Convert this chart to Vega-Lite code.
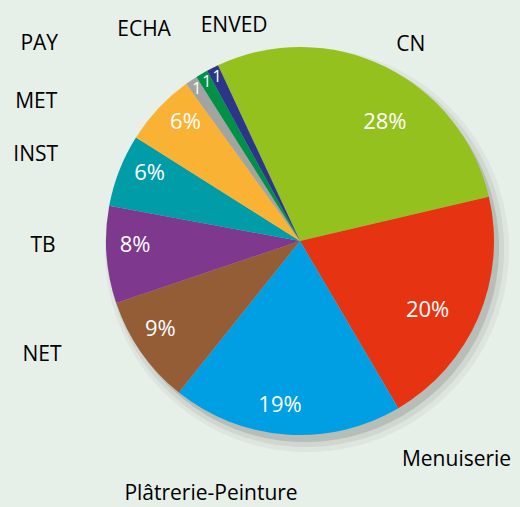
{
  "$schema": "https://vega.github.io/schema/vega-lite/v6.json",
  "autosize": {"type": "none"},
  "width": 440,
  "height": 482,
  "padding": {"left": 80, "top": 0, "right": 0, "bottom": 25},
  "background": "#e6efe8",
  "config": {"view": {"stroke": null}, "text": {"font": "Open Sans", "fontSize": 21}},
  "data": {"values": [
    {"category": "CN", "value": 28, "pct": "28%", "rank": 1},
    {"category": "Menuiserie", "value": 20, "pct": "20%", "rank": 2},
    {"category": "Plâtrerie-Peinture", "value": 19, "pct": "19%", "rank": 3},
    {"category": "NET", "value": 9, "pct": "9%", "rank": 4},
    {"category": "TB", "value": 8, "pct": "8%", "rank": 5},
    {"category": "INST", "value": 6, "pct": "6%", "rank": 6},
    {"category": "MET", "value": 6, "pct": "6%", "rank": 7},
    {"category": "PAY", "value": 1, "pct": "1", "rank": 8},
    {"category": "ECHA", "value": 1, "pct": "1", "rank": 9},
    {"category": "ENVED", "value": 1, "pct": "1", "rank": 10}
  ]},
  "encoding": {
    "theta": {"field": "value", "type": "quantitative", "stack": true, "scale": {"range": [-0.4363, 5.8469]}},
    "order": {"field": "rank", "type": "quantitative"}
  },
  "layer": [
    {"mark": {"type": "arc", "radius": 202, "color": "#6f736f", "opacity": 0.08, "xOffset": 7, "yOffset": 9}},
    {"mark": {"type": "arc", "radius": 198, "color": "#6f736f", "opacity": 0.12, "xOffset": 6, "yOffset": 8}},
    {"mark": {"type": "arc", "radius": 194, "color": "#6f736f", "opacity": 0.25, "xOffset": 5, "yOffset": 7}},
    {
      "mark": {"type": "arc", "radius": 194},
      "encoding": {
        "color": {"field": "category", "type": "nominal", "legend": null,
          "scale": {"domain": ["CN", "Menuiserie", "Plâtrerie-Peinture", "NET", "TB", "INST", "MET", "PAY", "ECHA", "ENVED"],
                    "range": ["#95c11f", "#e63312", "#009fe3", "#955d36", "#7e388d", "#009ca7", "#f9b233", "#a3a3a2", "#009146", "#2c3689"]}}
      }
    },
    {
      "mark": {"type": "text", "radius": 165, "thetaOffset": 0.05, "color": "white", "fontSize": 22, "align": "center", "baseline": "middle"},
      "encoding": {"text": {"condition": {"test": "datum.rank >= 3 && datum.rank <= 7", "field": "pct"}, "value": ""}}
    },
    {
      "mark": {"type": "text", "radius": 146, "thetaOffset": 0.168, "color": "white", "fontSize": 22, "align": "center", "baseline": "middle"},
      "encoding": {"text": {"condition": {"test": "datum.category === 'CN'", "field": "pct"}, "value": ""}}
    },
    {
      "mark": {"type": "text", "radius": 145, "thetaOffset": 0.09, "color": "white", "fontSize": 22, "align": "center", "baseline": "middle"},
      "encoding": {"text": {"condition": {"test": "datum.category === 'Menuiserie'", "field": "pct"}, "value": ""}}
    },
    {
      "mark": {"type": "text", "radius": 184, "color": "white", "fontSize": 16, "align": "center", "baseline": "middle"},
      "encoding": {"text": {"condition": {"test": "datum.rank >= 8", "field": "pct"}, "value": ""}}
    },
    {
      "mark": {"type": "text", "radius": 225, "thetaOffset": 0.063, "color": "black", "align": "center", "baseline": "middle"},
      "encoding": {"text": {"condition": {"test": "datum.category === 'CN'", "field": "category"}, "value": ""}}
    },
    {
      "mark": {"type": "text", "radius": 269, "thetaOffset": 0.545, "color": "black", "align": "center", "baseline": "middle"},
      "encoding": {"text": {"condition": {"test": "datum.category === 'Menuiserie'", "field": "category"}, "value": ""}}
    },
    {
      "mark": {"type": "text", "radius": 268, "thetaOffset": 0.267, "color": "black", "align": "center", "baseline": "middle"},
      "encoding": {"text": {"condition": {"test": "datum.category === 'Plâtrerie-Peinture'", "field": "category"}, "value": ""}}
    },
    {
      "mark": {"type": "text", "radius": 282, "thetaOffset": 0.195, "color": "black", "align": "center", "baseline": "middle"},
      "encoding": {"text": {"condition": {"test": "datum.category === 'NET'", "field": "category"}, "value": ""}}
    },
    {
      "mark": {"type": "text", "radius": 257, "thetaOffset": 0.052, "color": "black", "align": "center", "baseline": "middle"},
      "encoding": {"text": {"condition": {"test": "datum.category === 'TB'", "field": "category"}, "value": ""}}
    },
    {
      "mark": {"type": "text", "radius": 278, "thetaOffset": -0.058, "color": "black", "align": "center", "baseline": "middle"},
      "encoding": {"text": {"condition": {"test": "datum.category === 'INST'", "field": "category"}, "value": ""}}
    },
    {
      "mark": {"type": "text", "radius": 298, "thetaOffset": -0.27, "color": "black", "align": "center", "baseline": "middle"},
      "encoding": {"text": {"condition": {"test": "datum.category === 'MET'", "field": "category"}, "value": ""}}
    },
    {
      "mark": {"type": "text", "radius": 327, "thetaOffset": -0.328, "color": "black", "align": "center", "baseline": "middle"},
      "encoding": {"text": {"condition": {"test": "datum.category === 'PAY'", "field": "category"}, "value": ""}}
    },
    {
      "mark": {"type": "text", "radius": 262, "thetaOffset": -0.106, "color": "black", "align": "center", "baseline": "middle"},
      "encoding": {"text": {"condition": {"test": "datum.category === 'ECHA'", "field": "category"}, "value": ""}}
    },
    {
      "mark": {"type": "text", "radius": 225, "thetaOffset": 0.171, "color": "black", "align": "center", "baseline": "middle"},
      "encoding": {"text": {"condition": {"test": "datum.category === 'ENVED'", "field": "category"}, "value": ""}}
    }
  ]
}
